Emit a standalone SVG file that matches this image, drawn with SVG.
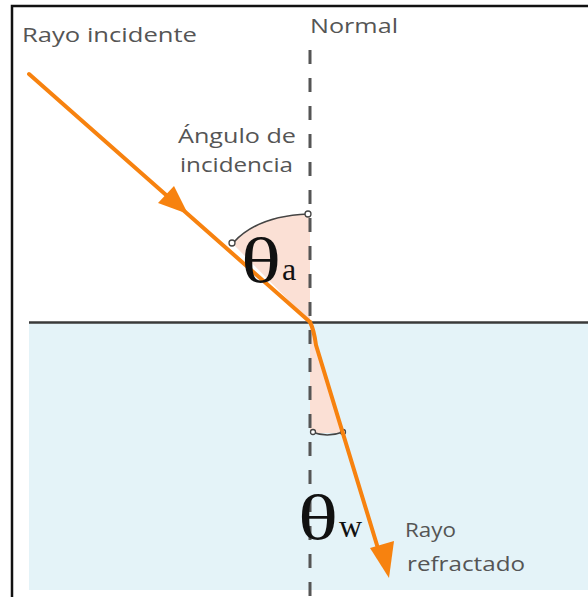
<svg xmlns="http://www.w3.org/2000/svg" width="588" height="597" viewBox="0 0 588 597">
<style>
.lbl{font-family:"Open Sans",Lato,sans-serif;font-size:20px;fill:#555}
.sym{font-family:"Liberation Serif",serif;fill:#111}
.ray{stroke:#f7820f;stroke-width:4;fill:none;stroke-linecap:round}
.arc{stroke:#444;stroke-width:1.6;fill:none}
.end{stroke:#444;stroke-width:1.3;fill:#fff}
</style>
<rect x="0" y="0" width="588" height="597" fill="#fff"/>
<g id="water">
<rect x="29" y="323" width="559" height="267" fill="#e4f3f8"/>
<line x1="29" y1="322.5" x2="588" y2="322.5" stroke="#3a3a3a" stroke-width="2.5"/>
</g>
<rect x="12" y="6" width="590" height="600" fill="none" stroke="#111" stroke-width="2.5"/>
<g id="angle-a">
<path d="M310,322 L232,243 Q260,214 310,214 Z" fill="#fbe0d5"/>
<path d="M234,242 Q258,216 308,214" class="arc"/>
<circle cx="232" cy="243" r="3" class="end"/>
<circle cx="308" cy="214" r="3" class="end"/>
</g>
<g id="angle-w">
<path d="M310,322 L343,433 L310,433 Z" fill="#fbe0d5"/>
<path d="M312,432 Q327,438 343,432" class="arc"/>
<circle cx="313" cy="432" r="2.5" class="end"/>
<circle cx="343" cy="432" r="2.5" class="end"/>
</g>
<g id="normal">
<line x1="310" y1="50" x2="310" y2="597" stroke="#555" stroke-width="3" stroke-dasharray="14 14"/>
</g>
<g id="connectors">
<line x1="29" y1="74" x2="310" y2="322" class="ray"/>
<polygon points="188,214 158,203 174,186" fill="#f7820f"/>
<path d="M310,322 Q314,330 316,345 L380,555" class="ray"/>
<polygon points="389,578 370,548 394,541" fill="#f7820f"/>
</g>
<g id="labels">
<text class="lbl" x="22" y="42" textLength="175" lengthAdjust="spacingAndGlyphs">Rayo incidente</text>
<text class="lbl" x="310" y="33" textLength="88" lengthAdjust="spacingAndGlyphs">Normal</text>
<text class="lbl" x="178" y="143" textLength="118" lengthAdjust="spacingAndGlyphs">Ángulo de</text>
<text class="lbl" x="180" y="172" textLength="113" lengthAdjust="spacingAndGlyphs">incidencia</text>
<text class="lbl" x="405" y="537" textLength="51" lengthAdjust="spacingAndGlyphs">Rayo</text>
<text class="lbl" x="407" y="571" textLength="118" lengthAdjust="spacingAndGlyphs">refractado</text>
</g>
<g id="theta-a">
<text class="sym" x="241" y="282" font-size="64" textLength="40" lengthAdjust="spacingAndGlyphs">θ</text>
<text class="sym" x="282" y="280" font-size="32">a</text>
</g>
<g id="theta-w">
<text class="sym" x="298" y="539" font-size="64" textLength="40" lengthAdjust="spacingAndGlyphs">θ</text>
<text class="sym" x="339" y="537" font-size="32">w</text>
</g>
</svg>
